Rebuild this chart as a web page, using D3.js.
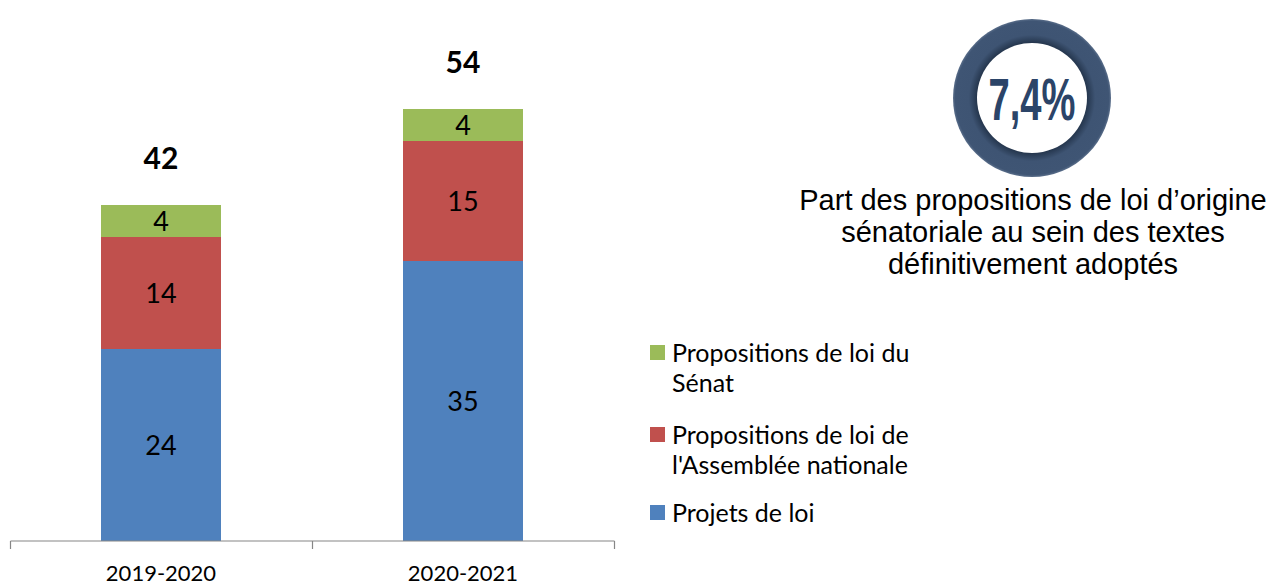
<!DOCTYPE html>
<html><head><meta charset="utf-8">
<script src="https://cdn.jsdelivr.net/npm/d3@7"></script>
<style>body{margin:0;background:#fff}svg{display:block}</style>
</head><body>
<svg id="c" width="1274" height="585"></svg>
<script>
const categories = ["2019-2020", "2020-2021"];
const seriesNames = ["Projets de loi", "Propositions de loi de l'Assemblée nationale", "Propositions de loi du Sénat"];
const projets = [24, 35];
const propAN = [14, 15];
const propSenat = [4, 4];
const totals = [42, 54];
const legendLines = [["Propositions de loi du", "Sénat"], ["Propositions de loi de", "l'Assemblée nationale"], ["Projets de loi"]];
const colors = ["#4f81bd", "#c0504d", "#9bbb59"];
const pct = "7,4%";
const caption = ["Part des propositions de loi d\u2019origine", "sénatoriale au sein des textes", "définitivement adoptés"];

const svg = d3.select("#c");
const font = "Lato, 'Open Sans', sans-serif";
const x = d3.scaleBand().domain(categories).range([10, 614]).paddingInner(0).paddingOuter(0);
const y = d3.scaleLinear().domain([0, 54]).range([541, 109]);
const bw = 120;

const rows = categories.map((c, i) => ({cat: c, 0: projets[i], 1: propAN[i], 2: propSenat[i]}));
const stack = d3.stack().keys([0, 1, 2])(rows);

const g = svg.append("g");
stack.forEach((layer, k) => {
  layer.forEach((d, i) => {
    const cx = x(categories[i]) + x.bandwidth() / 2;
    g.append("rect").attr("x", cx - bw / 2).attr("width", bw)
      .attr("y", y(d[1])).attr("height", y(d[0]) - y(d[1]))
      .attr("fill", colors[k]);
    g.append("text").attr("x", cx).attr("y", (y(d[0]) + y(d[1])) / 2)
      .attr("dy", "0.36em").attr("text-anchor", "middle")
      .attr("font-family", font).attr("font-size", 27).attr("fill", "#000")
      .text(d[1] - d[0]);
  });
});
totals.forEach((t, i) => {
  const cx = x(categories[i]) + x.bandwidth() / 2;
  g.append("text").attr("x", cx).attr("y", y(t + 4.5)).attr("text-anchor", "middle")
    .attr("font-family", font).attr("font-weight", "bold").attr("font-size", 30).text(t);
});

// axis
const axis = d3.axisBottom(x).tickSize(0).tickFormat("");
const ax = svg.append("g").attr("transform", "translate(0,541)").call(axis);
ax.select(".domain").attr("stroke", "#868686").attr("stroke-width", 1.2).attr("d", "M10.5,0H614.5");
const bounds = [10.5, x(categories[1]) + 0.5, 614.5];
bounds.forEach(b => ax.append("line").attr("x1", b).attr("x2", b).attr("y1", 0).attr("y2", 8).attr("stroke", "#868686").attr("stroke-width", 1.2));
categories.forEach(c => {
  svg.append("text").attr("x", x(c) + x.bandwidth() / 2).attr("y", 581).attr("text-anchor", "middle")
    .attr("font-family", font).attr("font-size", 22).attr("fill", "#000").text(c);
});

// legend
const legY = [353, 435, 513];
const legColors = [colors[2], colors[1], colors[0]];
legendLines.forEach((lines, i) => {
  svg.append("rect").attr("x", 650).attr("y", legY[i] - 8).attr("width", 15).attr("height", 15).attr("fill", legColors[i]);
  lines.forEach((l, j) => {
    svg.append("text").attr("x", 672).attr("y", legY[i] + j * 30).attr("dy", "0.36em")
      .attr("font-family", font).attr("font-size", 25).attr("fill", "#000").text(l);
  });
});

// circle
const cxc = 1032, cyc = 98;
const defs = svg.append("defs");
const rg = defs.append("radialGradient").attr("id", "ring");
rg.append("stop").attr("offset", "0.69").attr("stop-color", "#23344b");
rg.append("stop").attr("offset", "0.8").attr("stop-color", "#3e5473");
rg.append("stop").attr("offset", "0.97").attr("stop-color", "#3f5574");
rg.append("stop").attr("offset", "1").attr("stop-color", "#5a6e8a");
svg.append("circle").attr("cx", cxc).attr("cy", cyc).attr("r", 79).attr("fill", "url(#ring)");
svg.append("circle").attr("cx", cxc).attr("cy", cyc).attr("r", 55).attr("fill", "#fff");
svg.append("text").attr("x", cxc).attr("y", cyc + 22).attr("text-anchor", "middle")
  .attr("font-family", "'Liberation Sans', Arial, sans-serif").attr("font-weight", "bold")
  .attr("font-size", 60).attr("fill", "#2b4468")
  .attr("textLength", 87).attr("lengthAdjust", "spacingAndGlyphs").text(pct);

caption.forEach((l, i) => {
  svg.append("text").attr("x", 1033).attr("y", 200 + i * 32).attr("dy", "0.36em").attr("text-anchor", "middle")
    .attr("font-family", "'Liberation Sans', Arial, sans-serif").attr("font-size", 29).attr("fill", "#000").text(l);
});
</script>
</body></html>
